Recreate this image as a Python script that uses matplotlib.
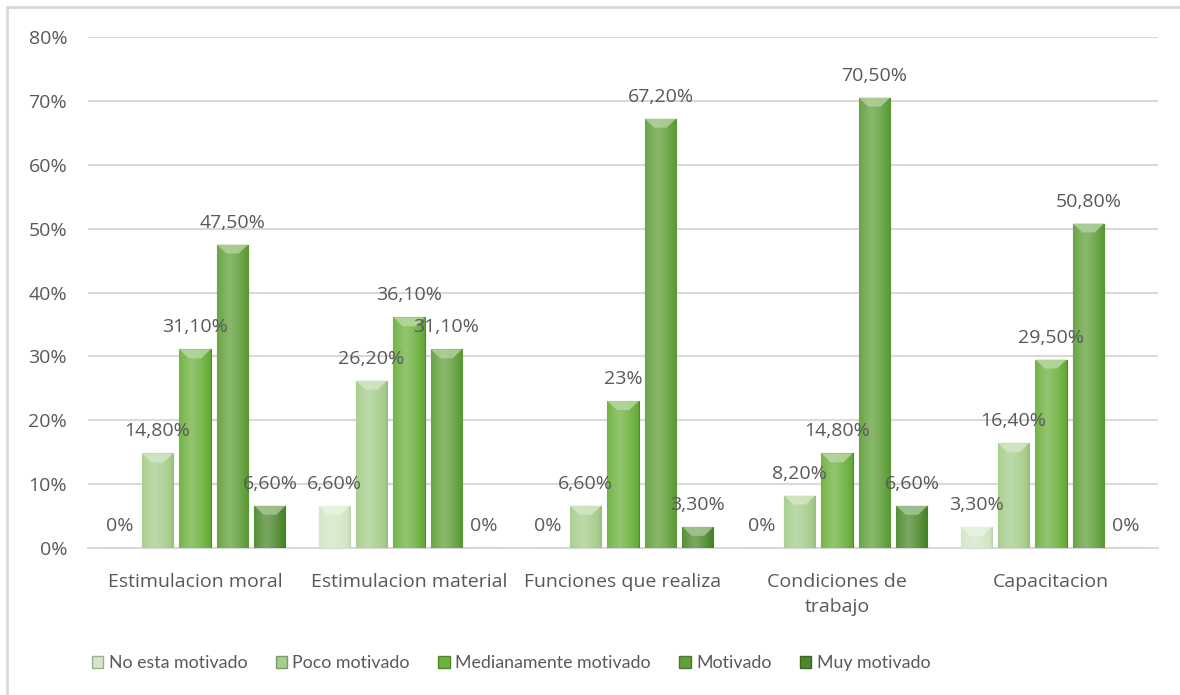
import numpy as np
import matplotlib
matplotlib.use('Agg')
from matplotlib import pyplot as plt
from matplotlib.patches import Rectangle, Polygon

categories = ['Estimulacion moral', 'Estimulacion material', 'Funciones que realiza',
              'Condiciones de\ntrabajo', 'Capacitacion']
series_names = ['No esta motivado', 'Poco motivado', 'Medianamente motivado', 'Motivado', 'Muy motivado']
no_motivado = [0, 6.6, 0, 0, 3.3]
poco_motivado = [14.8, 26.2, 6.6, 8.2, 16.4]
medianamente = [31.1, 36.1, 23, 14.8, 29.5]
motivado = [47.5, 31.1, 67.2, 70.5, 50.8]
muy_motivado = [6.6, 0, 3.3, 6.6, 0]
series_values = [no_motivado, poco_motivado, medianamente, motivado, muy_motivado]

colors = ['#d3e6c5', '#a6cd8b', '#6db13e', '#62a03b', '#4d892c']
text_color = '#595959'
grid_color = '#d9d9d9'

plt.rcParams['font.family'] = ['Open Sans', 'DejaVu Sans']
plt.rcParams['font.size'] = 14


def fmt(v):
    # Spanish style decimal comma, integers without decimals
    if float(v).is_integer():
        return f'{int(v)}%'
    return f'{v:.2f}%'.replace('.', ',')


def shade(hex_color, k):
    rgb = np.array(matplotlib.colors.to_rgb(hex_color))
    if k >= 0:
        return tuple(rgb + (1 - rgb) * k)
    return tuple(rgb * (1 + k))


fig = plt.figure(figsize=(11.8, 6.95), dpi=100)
ax = fig.add_axes([88 / 1180, 1 - 548 / 695, 1070 / 1180, 511 / 695])

x = np.arange(len(categories))
step = 0.175
width = 0.145

for i, (name, vals) in enumerate(zip(series_names, series_values)):
    pos = x + (i - 2) * step
    bars = ax.bar(pos, vals, width, color=colors[i], edgecolor=shade(colors[i], -0.25),
                  linewidth=0.8, zorder=3, label=name)
    for b, v in zip(bars, vals):
        x0, w, h = b.get_x(), b.get_width(), b.get_height()
        if h > 0:
            # horizontal shading across the bar
            grad = np.linspace(0, 1, 64)
            prof = 0.25 - 0.6 * np.abs(grad - 0.4) ** 1.2
            rgb = np.array([shade(colors[i], k) for k in prof])[None, :, :]
            im = ax.imshow(rgb, extent=(x0, x0 + w, 0, h), aspect='auto', zorder=3.5,
                           interpolation='bilinear')
            im.set_clip_path(b)
            # bevelled top edge
            bh = min(1.4, h)
            inset = w * 0.3
            bevel = Polygon([(x0, h), (x0 + w, h), (x0 + w - inset, h - bh), (x0 + inset, h - bh)],
                            closed=True, facecolor=shade(colors[i], 0.5), edgecolor='none',
                            zorder=3.6, alpha=0.85)
            ax.add_patch(bevel)
        ax.annotate(fmt(v), (b.get_x() + w / 2, h), xytext=(0, 22), textcoords='offset pixels',
                    ha='center', va='center', color=text_color, fontsize=14, zorder=5)

ax.set_xlim(-0.5, 4.5)
ax.set_ylim(0, 80)
ax.set_yticks(np.arange(0, 81, 10))
ax.set_yticklabels([f'{t}%' for t in range(0, 81, 10)])
ax.set_xticks(x)
ax.set_xticklabels(categories, linespacing=1.5)
ax.yaxis.grid(True, color=grid_color, linewidth=1.5, zorder=0)
ax.set_axisbelow(True)
for s in ax.spines.values():
    s.set_visible(False)
ax.spines['bottom'].set_visible(True)
ax.spines['bottom'].set_color(grid_color)
ax.spines['bottom'].set_linewidth(1.5)
ax.tick_params(axis='both', length=0, colors=text_color, labelsize=14)
ax.tick_params(axis='y', pad=15)
ax.tick_params(axis='x', pad=18)

handles = [Rectangle((0, 0), 1, 1, facecolor=c, edgecolor=shade(c, -0.25)) for c in colors]
fig.legend(handles, series_names, loc='center', bbox_to_anchor=(511 / 1180, 1 - 663 / 695),
           ncol=5, frameon=False, handlelength=0.65, handleheight=0.65, handletextpad=0.3,
           columnspacing=1.6, prop={'family': ['Lato', 'DejaVu Sans'], 'size': 12.75},
           labelcolor=text_color)

# outer chart frame
fig.patches.append(Rectangle((7 / 1180, -0.1), 1.2, 1.1 - 7 / 695, transform=fig.transFigure,
                             fill=False, edgecolor=grid_color, linewidth=2))

fig.savefig('out.png', dpi=100)
